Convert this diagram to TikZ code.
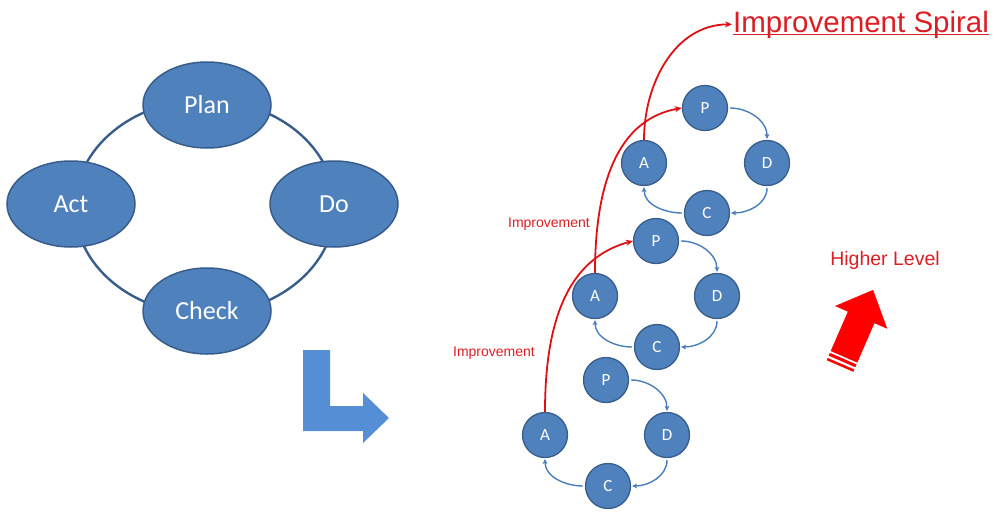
\documentclass[tikz,border=0pt]{standalone}
\usepackage{fontspec}
\setmainfont{Carlito}
\newfontfamily\arialf{Liberation Sans}
\usetikzlibrary{shapes.geometric,arrows.meta}
\definecolor{fillblue}{RGB}{79,129,189}
\definecolor{edgeblue}{RGB}{56,93,138}
\definecolor{arrblue}{RGB}{85,142,213}
\definecolor{linkblue}{RGB}{74,126,187}
\definecolor{redline}{RGB}{222,16,20}
\definecolor{redtext}{RGB}{218,30,36}
\begin{document}
\begin{tikzpicture}[x=1pt,y=1pt,
  bigell/.style={ellipse,draw=edgeblue,line width=1.5pt,fill=fillblue,minimum width=128,minimum height=86,inner sep=0pt,text=white,font=\fontsize{26}{26}\selectfont},
  smallc/.style={circle,draw=edgeblue,line width=1.3pt,fill=fillblue,minimum size=45,inner sep=0pt,text=white,font=\fontsize{17}{17}\selectfont},
  bluelink/.style={draw=linkblue,line width=1.4pt,-{Stealth[length=5pt,width=5pt]},shorten <=2pt,shorten >=1pt},
  redlink/.style={draw=redline,line width=1.8pt,-{Stealth[length=7pt,width=6pt]}},
  redlabel/.style={text=redtext,font=\arialf\fontsize{14}{14}\selectfont,inner sep=0pt}
]
\path[use as bounding box] (0,0) rectangle (995,-514);

% PDCA ring
\draw[edgeblue,line width=2.4pt] (205,-207) ellipse [x radius=130,y radius=107];
\node[bigell] (plan)  at (207,-105) {Plan};
\node[bigell] (act)   at (71,-204) {Act};
\node[bigell] (do)    at (334,-204) {Do};
\node[bigell] (check) at (207,-311) {Check};

% bent blue arrow
\fill[arrblue] (303,-350) -- (330,-350) -- (330,-406) -- (363,-406) -- (363,-393)
  -- (389,-418) -- (363,-443) -- (363,-431) -- (303,-431) -- cycle;

% bottom cycle
\node[smallc] (P1) at (606,-380) {P};
\node[smallc] (D1) at (667,-435) {D};
\node[smallc] (C1) at (608,-486) {C};
\node[smallc] (A1) at (545,-435) {A};
% middle cycle
\node[smallc] (P2) at (656,-241) {P};
\node[smallc] (D2) at (717,-296) {D};
\node[smallc] (C2) at (657,-347) {C};
\node[smallc] (A2) at (595,-296) {A};
% top cycle
\node[smallc] (P3) at (705,-108) {P};
\node[smallc] (D3) at (767,-163) {D};
\node[smallc] (C3) at (707,-213) {C};
\node[smallc] (A3) at (644,-163) {A};

\foreach \i in {1,2,3}{
  \draw[bluelink] (P\i.east) to[out=0,in=90] (D\i.north);
  \draw[bluelink] (D\i.south) to[out=-90,in=0] (C\i.east);
  \draw[bluelink] (C\i.west) to[out=180,in=-90] (A\i.south);
}

% texts
\node[redlabel,anchor=base west,font=\arialf\fontsize{29.5}{29.5}\selectfont,inner sep=1pt] (title) at (732,-32) {Improvement Spiral};
\draw[redtext,line width=1.2pt] ([yshift=-2.5pt]title.base west) ++(1,0) coordinate (ul1) -- ([yshift=-2.5pt,xshift=-1pt]title.base east) coordinate (ul2);
\node[redlabel] (imp1) at (494,-353) {Improvement};
\node[redlabel] (imp2) at (549,-224) {Improvement};
\node[redlabel,font=\arialf\fontsize{19.5}{19.5}\selectfont] (higher) at (885,-260) {Higher Level};

% red improvement arrows
\draw[redlink] (A1.north) to[out=90,in=195] (P2.west);
\draw[redlink] (A2.north) to[out=90,in=190] (P3.west);
\draw[redlink] (A3.north) to[out=90,in=180] (title.west);

% higher level arrow
\begin{scope}[shift={(840,-366)},rotate=66.5]
  \fill[red] (10,-14.5) -- (53,-14.5) -- (53,-28.5) -- (83,0) -- (53,28.5) -- (53,14.5) -- (10,14.5) -- cycle;
  \fill[red] (0,-14.5) rectangle (2.5,14.5);
  \fill[red] (5,-14.5) rectangle (8,14.5);
\end{scope}
\end{tikzpicture}
\end{document}
